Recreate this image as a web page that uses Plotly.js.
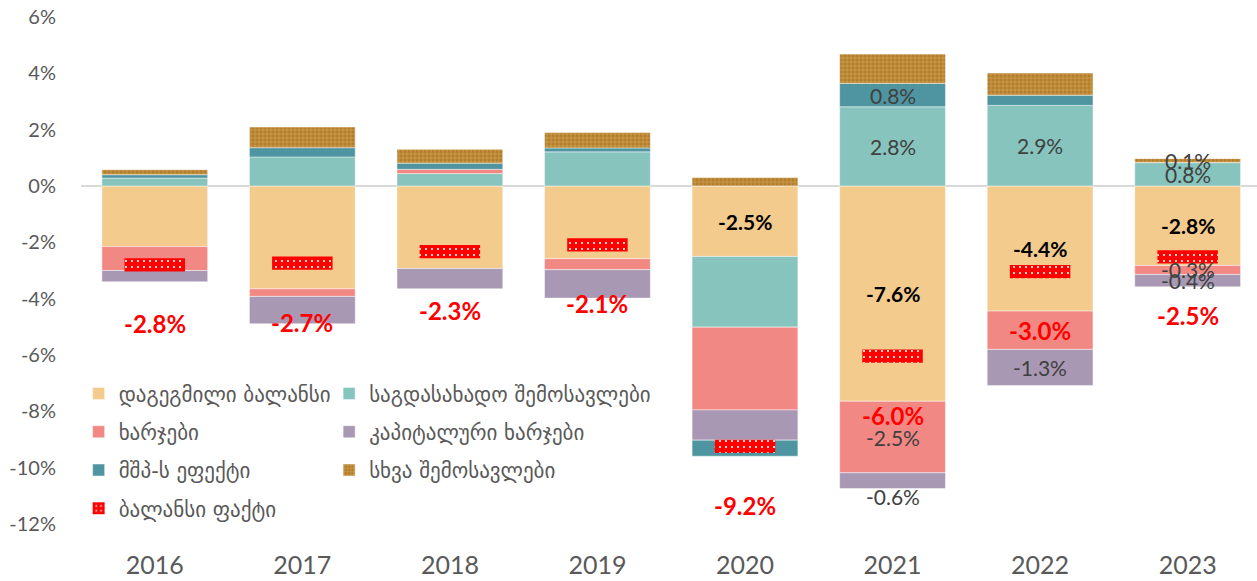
<!DOCTYPE html>
<html>
<head>
<meta charset="utf-8">
<script src="https://cdn.plot.ly/plotly-3.0.1.min.js"></script>
<style>html,body{margin:0;padding:0;background:#fff;}#chart{width:1257px;height:581px;}</style>
</head>
<body>
<div id="chart"></div>
<script>
// ---- data (percent of GDP) ----
const years = ['2016', '2017', '2018', '2019', '2020', '2021', '2022', '2023'];
const planned  = [-2.15, -3.65, -2.93, -2.58, -2.50, -7.64, -4.44, -2.82];
const tax      = [0.28, 1.03, 0.44, 1.21, -2.51, 2.81, 2.86, 0.83];
const expenses = [-0.85, -0.27, 0.15, -0.39, -2.94, -2.54, -1.36, -0.32];
const capital  = [-0.40, -0.97, -0.72, -1.01, -1.07, -0.56, -1.28, -0.44];
const gdp      = [0.12, 0.33, 0.22, 0.14, -0.57, 0.83, 0.36, 0.00];
const other    = [0.18, 0.73, 0.49, 0.55, 0.30, 1.04, 0.79, 0.14];
const fact     = [-2.80, -2.74, -2.33, -2.09, -9.24, -6.04, -3.04, -2.52];
const yTicks   = [6, 4, 2, 0, -2, -4, -6, -8, -10, -12];

const names = {
  planned: 'დაგეგმილი ბალანსი',
  tax: 'საგდასახადო შემოსავლები',
  expenses: 'ხარჯები',
  capital: 'კაპიტალური ხარჯები',
  gdp: 'მშპ-ს ეფექტი',
  other: 'სხვა შემოსავლები',
  fact: 'ბალანსი ფაქტი'
};
// which year indices carry a data label
const labelled = {planned: [4, 5, 6, 7], tax: [5, 6, 7], expenses: [5, 7], capital: [5, 6, 7], gdp: [5], other: [7]};

// ---- styling ----
const colors = {planned: '#F2CB8D', tax: '#86C4BD', expenses: '#F28883', capital: '#A898B3', gdp: '#4F95A1', other: '#B98329'};
const NUM_FONT = 'Lato, "Open Sans", sans-serif';
const GEO_FONT = '"DejaVu Sans", "Noto Sans", sans-serif';

const order = ['planned', 'tax', 'expenses', 'capital', 'gdp', 'other'];
const series = {planned, tax, expenses, capital, gdp, other};
const legendOf = {planned: 'legend', expenses: 'legend', gdp: 'legend', tax: 'legend2', capital: 'legend2', other: 'legend2'};
const rankOf = {planned: 1, expenses: 2, gdp: 3, tax: 1, capital: 2, other: 3};

const BAR_W = 0.717;
const traces = order.map(k => {
  const t = {
    type: 'bar', x: years, y: series[k], name: names[k],
    width: BAR_W, hoverinfo: 'skip',
    legend: legendOf[k], legendgroup: k, legendrank: rankOf[k],
    marker: {color: colors[k], line: {color: 'rgba(255,255,255,0.45)', width: 1}}
  };
  if (k === 'other') {
    t.marker.pattern = {shape: '+', bgcolor: '#B47E28', fgcolor: '#E2C48C', size: 4, solidity: 0.35, fillmode: 'overlay'};
  }
  return t;
});

// balance fact marker: a short red dotted band centred on the value
const FACT_H = 0.47;
traces.push({
  type: 'bar', x: years, y: fact.map(() => FACT_H), base: fact.map(v => v - FACT_H / 2),
  xaxis: 'x2', width: 0.41, name: names.fact, hoverinfo: 'skip',
  legend: 'legend', legendgroup: 'fact', legendrank: 4,
  marker: {color: '#FF0000', line: {width: 0}, pattern: {shape: '.', bgcolor: '#FF0000', fgcolor: '#FFFFFF', size: 6, solidity: 0.1}}
});

// ---- data labels from the values ----
const fmt = v => v.toFixed(1) + '%';
const annotations = [];
const posAcc = years.map(() => 0), negAcc = years.map(() => 0);
order.forEach(k => {
  series[k].forEach((v, i) => {
    let c;
    if (v >= 0) { c = posAcc[i] + v / 2; posAcc[i] += v; }
    else { c = negAcc[i] + v / 2; negAcc[i] += v; }
    if (labelled[k].indexOf(i) >= 0) {
      const bold = k === 'planned';
      const a = {
        x: i, y: c, xref: 'x', yref: 'y', showarrow: false,
        text: bold ? '<b>' + fmt(v) + '</b>' : fmt(v),
        font: {family: NUM_FONT, size: 21, color: bold ? '#000000' : '#404040'}
      };
      if (k === 'capital' && i === 5) a.yshift = -16;
      annotations.push(a);
    }
  });
});
fact.forEach((v, i) => {
  annotations.push({
    x: i, y: v, xref: 'x', yref: 'y', yshift: -59, showarrow: false,
    text: '<b>' + fmt(v) + '</b>',
    font: {family: NUM_FONT, size: 24, color: '#FF0000'}
  });
});

const legendCommon = {
  orientation: 'v', traceorder: 'grouped', tracegroupgap: 8,
  bgcolor: 'rgba(0,0,0,0)', yanchor: 'top', xanchor: 'left',
  font: {family: GEO_FONT, size: 21, color: '#595959'}
};

const layout = {
  width: 1257, height: 581,
  margin: {l: 81, r: 0, t: 0, b: 40},
  paper_bgcolor: '#FFFFFF', plot_bgcolor: '#FFFFFF',
  barmode: 'relative', bargap: 0.28,
  showlegend: true,
  legend: Object.assign({}, legendCommon, {x: -0.002, y: 0.31}),
  legend2: Object.assign({}, legendCommon, {x: 0.211, y: 0.31}),
  xaxis: {
    type: 'category', range: [-0.5, 7.47], showgrid: false, showline: false, zeroline: false,
    ticks: 'outside', ticklen: 2, tickcolor: 'rgba(0,0,0,0)',
    tickfont: {family: NUM_FONT, size: 25, color: '#595959'}
  },
  xaxis2: {type: 'category', overlaying: 'x', range: [-0.5, 7.47], visible: false},
  yaxis: {
    range: [-12.6, 6.6], tickvals: yTicks, ticktext: yTicks.map(v => v + '%'),
    showgrid: false, showline: false, zeroline: true, zerolinecolor: '#D9D9D9', zerolinewidth: 2.5,
    ticks: 'outside', ticklen: 20, tickcolor: 'rgba(0,0,0,0)',
    tickfont: {family: NUM_FONT, size: 20, color: '#595959'}
  },
  annotations: annotations
};

Plotly.newPlot('chart', traces, layout, {displayModeBar: false, staticPlot: true});
</script>
</body>
</html>
